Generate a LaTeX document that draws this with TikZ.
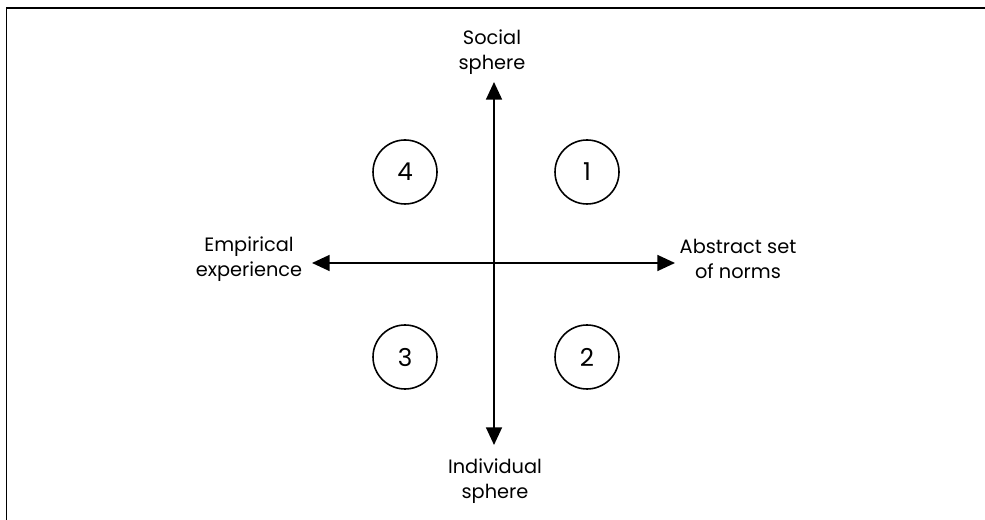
\documentclass[tikz,border=0pt]{standalone}
\usepackage{fontspec}
\setmainfont{Poppins}
\usetikzlibrary{arrows.meta,positioning}

\begin{document}
\begin{tikzpicture}[
  axis/.style={{Triangle[length=10pt,width=9pt]}-{Triangle[length=10pt,width=9pt]}, line width=1.1pt},
  lbl/.style={align=center, inner sep=0pt, font=\fontsize{11}{14}\selectfont},
  quad/.style={draw, circle, line width=0.9pt, minimum size=1.28cm, inner sep=0pt,
               font=\fontsize{14}{16}\selectfont}
]
\useasboundingbox (0,0) rectangle (19.7,10.4);
\draw[line width=1.1pt] (0.13,0) -- (0.13,10.24) -- (19.7,10.24);

% axis end points
\coordinate (top)   at (9.88,8.76);
\coordinate (bot)   at (9.88,1.5);
\coordinate (left)  at (6.24,5.14);
\coordinate (right) at (13.5,5.14);

\node[lbl] (social) at (9.84,9.36) {Social\\sphere};
\node[lbl] (indiv)  at (9.90,0.78) {Individual\\sphere};
\node[lbl] (emp)    at (4.98,5.22) {Empirical\\experience};
\node[lbl] (abs)    at (14.76,5.22) {Abstract set\\of norms};

\node[quad] (q4) at (8.10,6.96) {4};
\node[quad] (q1) at (11.74,6.96) {1};
\node[quad] (q3) at (8.10,3.26) {3};
\node[quad] (q2) at (11.74,3.26) {2};

\draw[axis] (bot) -- (top);
\draw[axis] (left) -- (right);
\end{tikzpicture}
\end{document}
